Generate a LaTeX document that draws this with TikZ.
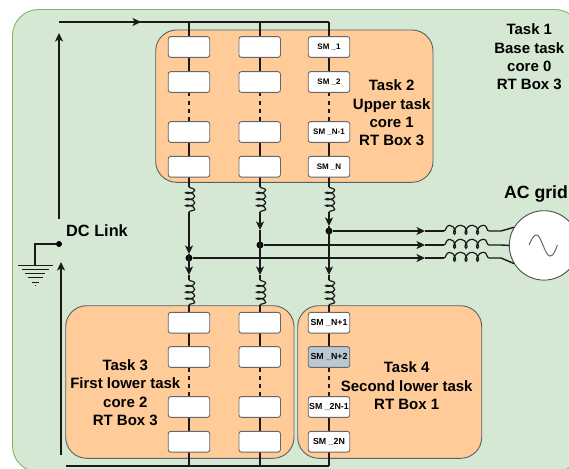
\documentclass[tikz,border=0pt]{standalone}
\usepackage{fontspec}
\setmainfont{Liberation Sans}
\usetikzlibrary{arrows.meta}
\definecolor{outerfill}{HTML}{D5E8D4}
\definecolor{outerline}{HTML}{82B366}
\definecolor{panelfill}{HTML}{FFCC99}
\definecolor{panelline}{HTML}{5A5F63}
\definecolor{greyfill}{HTML}{BAC8D3}
\definecolor{wirecol}{HTML}{1A1A1A}
\newcommand{\hump}[1]{.. controls ({#1+5.5},-5.7) and ({#1+7.5},3.3) .. ({#1+5},3.3) .. controls ({#1+2.5},3.3) and ({#1+4.5},-5.7) .. ({#1+11.5},-5.7) }
\tikzset{
  wire/.style={draw=wirecol,line width=1.4pt},
  arrowed/.style={wire,-{Stealth[length=8.5pt,width=8pt,inset=2.2pt]}},
  dotted wire/.style={wire,dash pattern=on 4pt off 4pt},
  panel/.style={draw=panelline,fill=panelfill,line width=0.9pt,rounded corners=21pt},
  smbox/.style={draw=black!60,fill=white,line width=0.9pt,rounded corners=2.5pt,minimum width=41.5pt,minimum height=20.8pt,inner sep=0pt,font=\fontsize{8}{9}\selectfont\bfseries},
  smlow/.style={smbox,font=\fontsize{8.8}{9}\selectfont\bfseries},
  jdot/.style={circle,fill=black,inner sep=0pt,minimum size=7pt},
  caption/.style={align=center,inner sep=0pt,font=\fontsize{15}{18.4}\selectfont\bfseries},
  pics/lcoil/.style={code={
    \draw[wire,line width=1.2pt] (0,0) .. controls (2,0) and (2,-5.7) .. (5.5,-5.7)
      \hump{5.5} \hump{17} \hump{28.5}
      .. controls (43,-5.7) and (42.5,0) .. (45,0);
  }},
}
\begin{document}
\begin{tikzpicture}[x=1pt,y=-1pt]
\useasboundingbox (0,0) rectangle (569,468);
\clip (0,0) rectangle (569,468);
% background
\draw[draw=outerline,fill=outerfill,line width=0.9pt,rounded corners=26pt] (12.5,9.5) rectangle (581,472);
\draw[panel] (155.7,30) rectangle (433,182.3);
\draw[panel] (65.7,305.7) rectangle (294,458.3);
\draw[panel] (297.7,305.7) rectangle (481.7,458.3);

% named points
\coordinate (busL) at (59,22);
\coordinate (busArrow) at (141,22);
\coordinate (top1) at (189,22);
\coordinate (top2) at (260,22);
\coordinate (top3) at (329,22);
\coordinate (botL) at (66,466);
\coordinate (bot1) at (189,466);
\coordinate (bot2) at (260,466);
\coordinate (bot3) at (329,466);
\coordinate (upS) at (59,219);
\coordinate (upE) at (59,33);
\coordinate (lowS) at (61,455);
\coordinate (lowE) at (61,262);
\coordinate (gndC) at (35,244);
\coordinate (gndB) at (35,265.5);

% junctions
\node[jdot] (j1) at (189,258) {};
\node[jdot] (j2) at (260,245) {};
\node[jdot] (j3) at (329,231) {};
\node[jdot,minimum size=6pt] (dc) at (59,244) {};

% grid
\node[circle,draw=black!70,fill=white,line width=0.9pt,minimum size=69.4pt,inner sep=0pt] (grid) at (544,245.4) {};
\draw[draw=black!60,line width=1pt] (529,245) .. controls (532,238) and (534,235) .. (536.7,235) .. controls (541,235) and (545,256) .. (550,256) .. controls (553,256) and (555,252) .. (557.3,245);

% DC bus
\draw[wire] (busL) -- (top3);
\draw[arrowed] (busL) -- (busArrow);
\draw[arrowed] (upS) -- (upE);
\draw[arrowed] (lowS) -- (lowE);
\draw[wire] (dc) -- (gndC) -- (gndB);
\draw[wire,line width=1pt] (18,265.7) -- (53,265.7);
\draw[wire,line width=1pt] (22,269.3) -- (49,269.3);
\draw[wire,line width=1pt] (25,273.2) -- (45,273.2);
\draw[wire,line width=1pt] (27.5,277) -- (43,277);
\draw[wire,line width=1pt] (32,282) -- (39,282);
\draw[wire,line width=1pt] (35,285.5) -- (35.8,285.5);
\draw[wire] (botL) -- (bot3);

% columns
\foreach \n/\x/\j/\tip in {1/189/258/254,2/260/245/230,3/329/231/226}{
  \coordinate (c\n b) at (\x,187);
  \coordinate (c\n c) at (\x,212);
  \coordinate (c\n t) at (\x,\tip);
  \coordinate (c\n j) at (\x,\j);
  \coordinate (c\n l) at (\x,275);
  \coordinate (c\n d) at (\x,280);
  \coordinate (c\n e) at (\x,305);
  \coordinate (c\n f) at (\x,312);
  \draw[wire] (top\n) -- (\x,40);
  \draw[wire] (\x,47) -- (\x,82);
  \draw[wire] (\x,132) -- (\x,167);
  \draw[dotted wire] (\x,92.5) -- (\x,121.5);
  \draw[wire] (\x,177) -- (c\n b);
  \pic[rotate=-90,xscale=0.556] at (c\n b) {lcoil};
  \draw[wire] (c\n t) -- (c\n j);
  \draw[arrowed] (c\n c) -- (c\n t);
  \draw[arrowed] (c\n j) -- (c\n l);
  \draw[wire] (c\n l) -- (c\n d);
  \pic[rotate=-90,xscale=0.556] at (c\n d) {lcoil};
  \draw[wire] (c\n e) -- (c\n f);
  \draw[wire] (\x,322) -- (\x,357);
  \draw[wire] (\x,407) -- (\x,442);
  \draw[dotted wire] (\x,368) -- (\x,396.5);
  \draw[wire] (\x,452) -- (bot\n);
}

% phases
\foreach \n/\y/\ang in {3/231/149,2/245/180,1/258/211}{
  \coordinate (p\n t) at (425,\y);
  \coordinate (p\n a) at (444,\y);
  \coordinate (p\n b) at (489,\y);
  \coordinate (p\n c) at (501,\y);
  \draw[arrowed] (j\n) -- (p\n t);
  \draw[wire] (p\n t) -- (p\n a);
  \pic at (p\n a) {lcoil};
  \draw[wire] (p\n b) -- (p\n c) -- (grid.\ang);
}

% upper boxes
\node[smbox] (a1) at (189,47) {};
\node[smbox] (a2) at (189,82) {};
\node[smbox] (a3) at (189,132) {};
\node[smbox] (a4) at (189,166.7) {};
\node[smbox] (b1) at (259.7,47) {};
\node[smbox] (b2) at (259.7,82) {};
\node[smbox] (b3) at (259.7,132) {};
\node[smbox] (b4) at (259.7,166.7) {};
\node[smbox] (s1) at (329,47) {SM \_1};
\node[smbox] (s2) at (329,82) {SM \_2};
\node[smbox] (s3) at (329,132) {SM \_N-1};
\node[smbox] (s4) at (329,166.7) {SM \_N};
% lower boxes
\node[smbox] (e1) at (189,322.7) {};
\node[smbox] (e2) at (189,357) {};
\node[smbox] (e3) at (189,407) {};
\node[smbox] (e4) at (189,441.7) {};
\node[smbox] (f1) at (259.7,322.7) {};
\node[smbox] (f2) at (259.7,357) {};
\node[smbox] (f3) at (259.7,407) {};
\node[smbox] (f4) at (259.7,441.7) {};
\node[smlow] (g1) at (329,322.7) {SM \_N+1};
\node[smlow,fill=greyfill] (g2) at (329,357) {SM \_N+2};
\node[smlow] (g3) at (329,407) {SM \_2N-1};
\node[smlow] (g4) at (329,441.7) {SM \_2N};

% captions
\node[caption] (t1) at (529.3,57) {Task 1\\Base task\\core 0\\RT Box 3};
\node[caption] (t2) at (391.7,113) {Task 2\\Upper task\\core 1\\RT Box 3};
\node[caption] (t3) at (125.3,392.5) {Task 3\\First lower task\\core 2\\RT Box 3};
\node[caption] (t4) at (406.7,386) {Task 4\\Second lower task\\RT Box 1};
\node[caption,font=\fontsize{16.3}{18}\selectfont\bfseries] (dcl) at (97,230.7) {DC Link};
\node[caption,font=\fontsize{17.7}{18}\selectfont\bfseries] (acg) at (536,194) {AC grid};
\end{tikzpicture}
\end{document}
